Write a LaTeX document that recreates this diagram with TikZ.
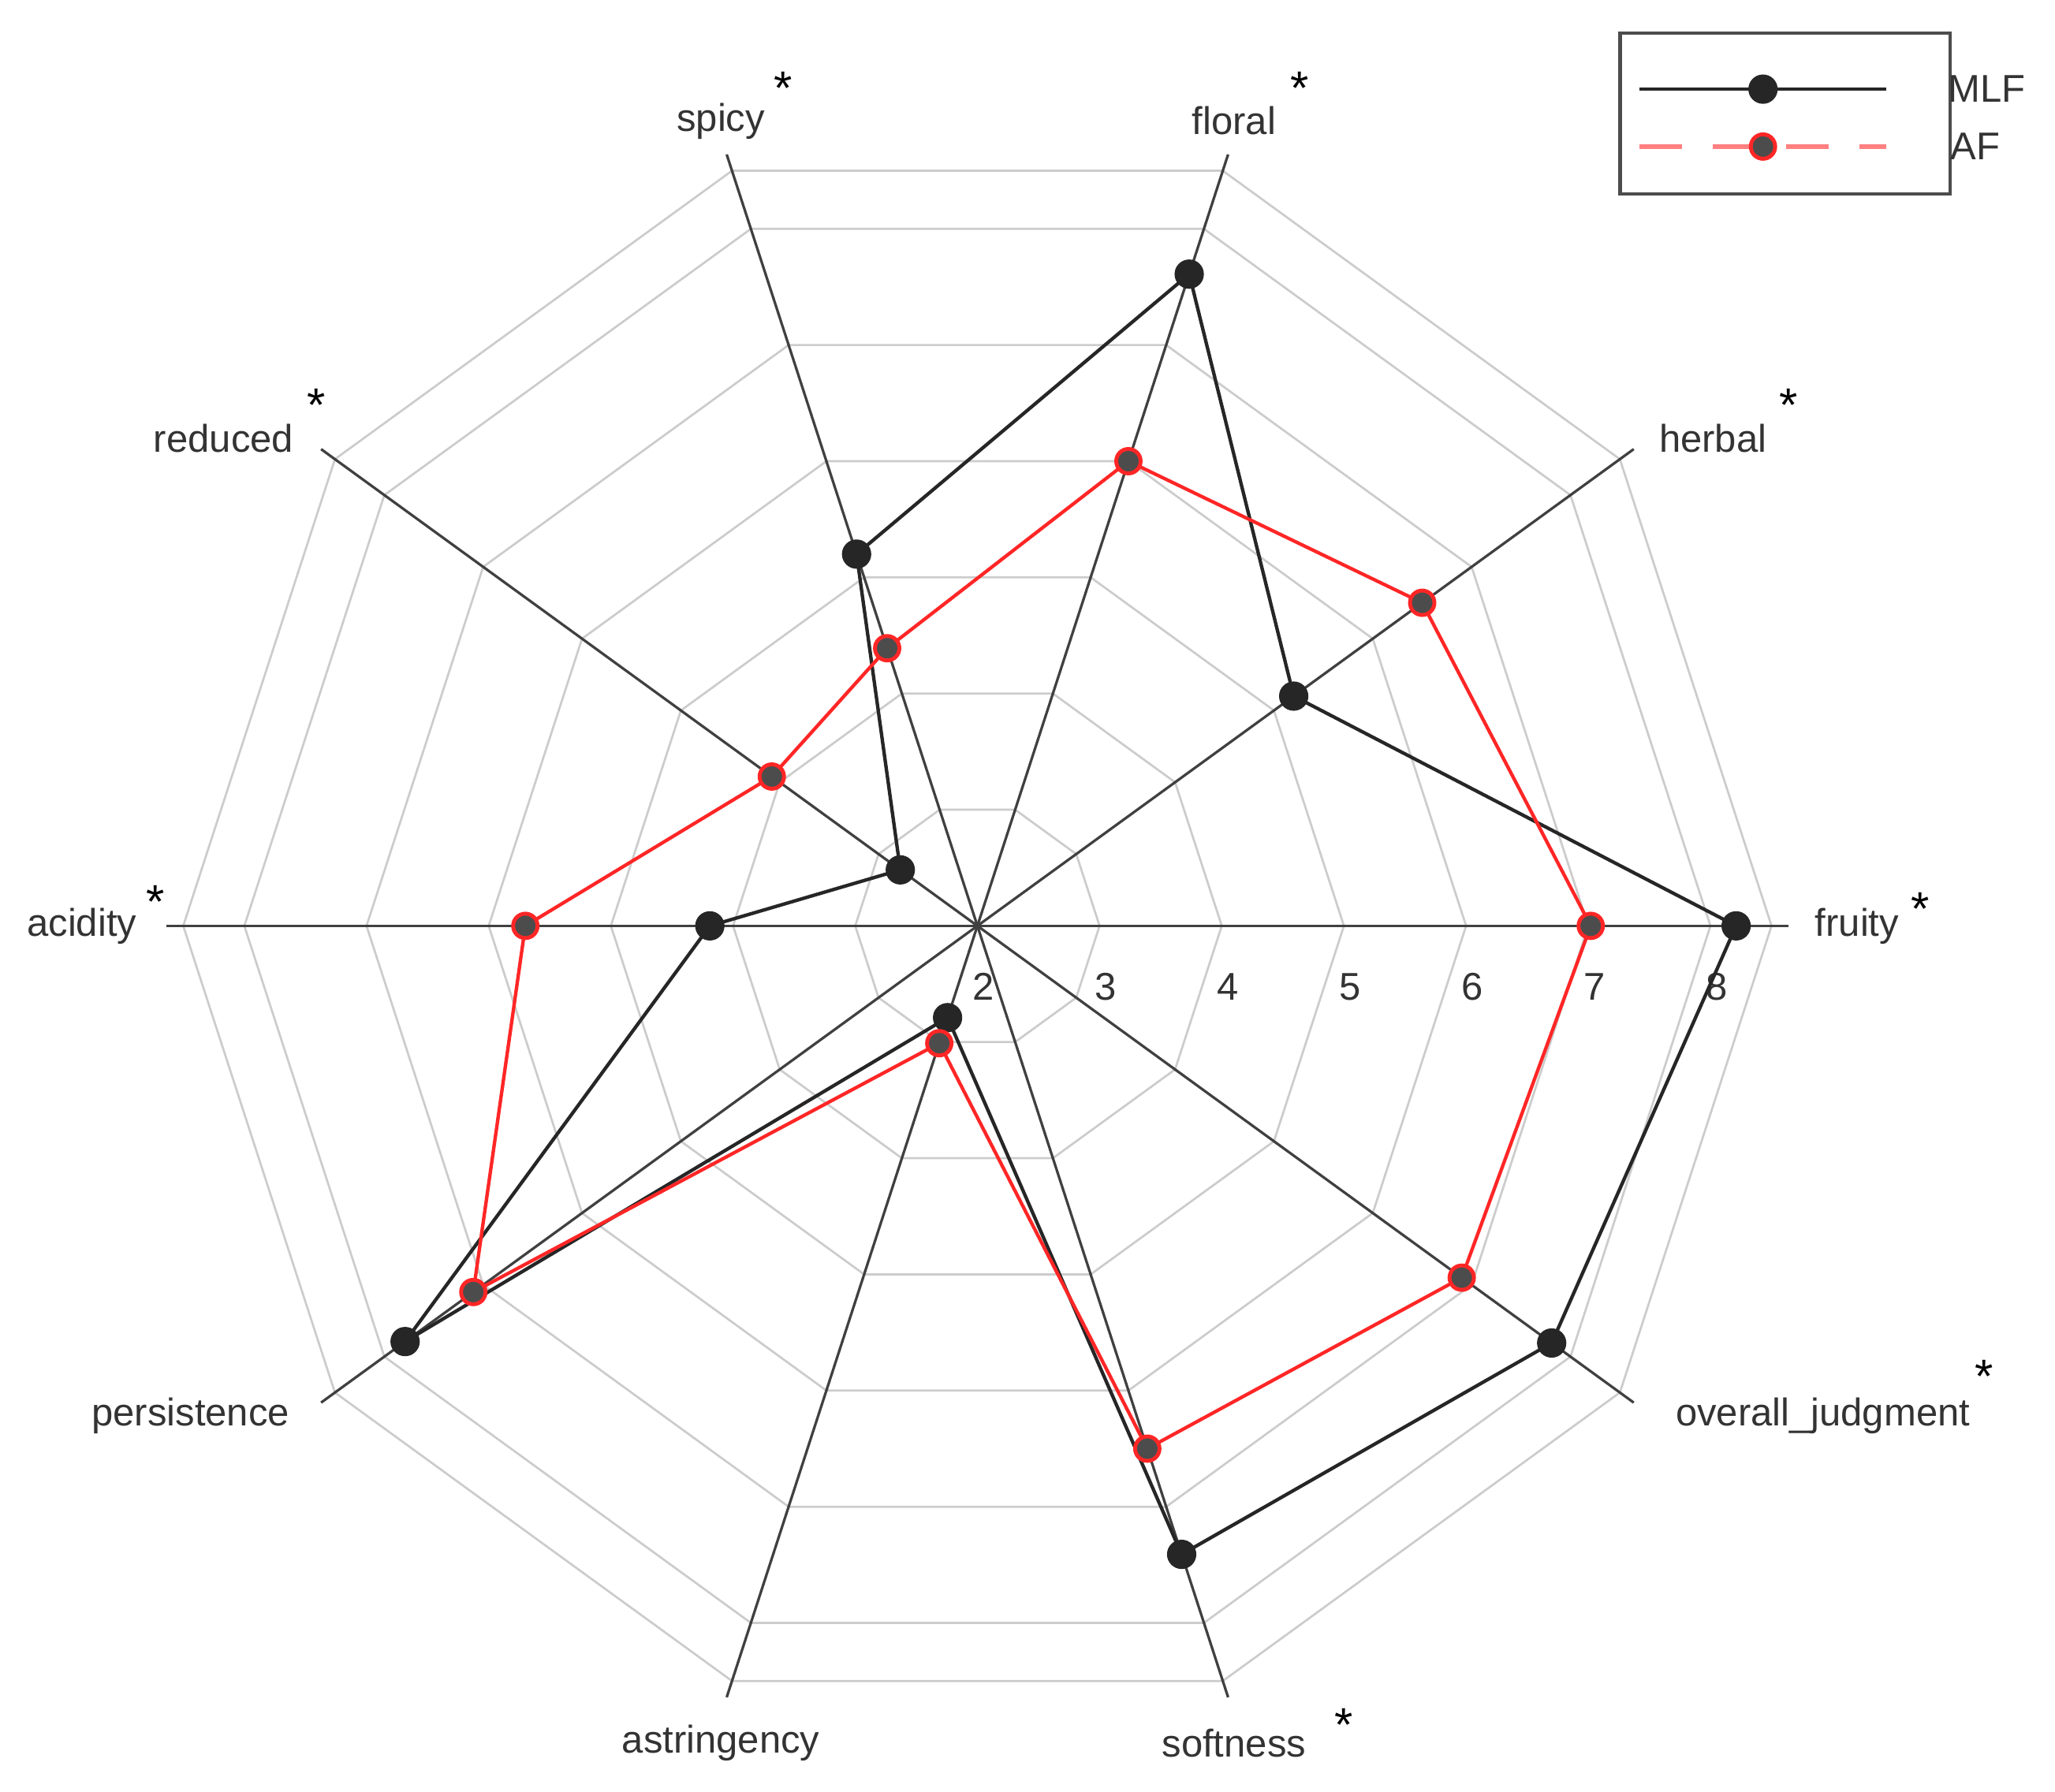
\documentclass[tikz,border=0pt]{standalone}
\usepackage{fontspec}
\setmainfont{Liberation Sans}
\begin{document}
\begin{tikzpicture}[
  lab/.style={font=\fontsize{9}{10}\selectfont, text=black!80},
  star/.style={font=\fontsize{11}{11}\selectfont},
  mlfdot/.style={circle, fill=black!85, inner sep=0pt, minimum size=0.24cm},
  afdot/.style={circle, fill=black!70, draw=red!85, line width=0.9pt, inner sep=0pt, minimum size=0.2cm},
  grid/.style={black!20, line width=0.5pt},
  axisl/.style={black!75, line width=0.6pt}]
\useasboundingbox (-8.0,-7.09) rectangle (8.82,7.58);
\coordinate (c) at (0,0);
% rings
\foreach \r in {1,2,3,4,5,6,6.5}{
  \draw[grid] (0:\r) \foreach \a in {36,72,...,324}{ -- (\a:\r)} -- cycle;
}
% axes
\foreach \a/\n in {0/fr,36/he,72/fl,108/sp,144/re,180/ac,216/pe,252/as,288/so,324/ov}{
  \coordinate (e\n) at (\a:6.64);
  \draw[axisl] (c) -- (e\n);
}
% tick labels
\foreach \v [count=\i from 0] in {2,3,4,5,6,7,8}{
  \node[lab] (t\v) at (\i+0.05,-0.5) {\v};
}
% labels
\node[lab] (lsp) at (-2.10,6.59) {spicy};
\node[star] (ssp) at (-1.59,6.86) {*};
\node[lab] (lfl) at (2.10,6.59) {floral};
\node[star] (sfl) at (2.64,6.86) {*};
\node[lab] (lre) at (-6.17,3.99) {reduced};
\node[star] (sre) at (-5.41,4.26) {*};
\node[lab] (lhe) at (6.02,3.99) {herbal};
\node[star] (she) at (6.64,4.26) {*};
\node[lab] (lac) at (-7.33,0) {acidity};
\node[star] (sac) at (-6.73,0.2) {*};
\node[lab] (lfr) at (7.2,0) {fruity};
\node[star] (sfr) at (7.72,0.14) {*};
\node[lab] (lpe) at (-6.44,-4.01) {persistence};
\node[lab] (lov) at (6.92,-4.01) {overall\_judgment};
\node[star] (sov) at (8.24,-3.69) {*};
\node[lab] (las) at (-2.10,-6.69) {astringency};
\node[lab] (lso) at (2.10,-6.69) {softness};
\node[star] (sso) at (3.0,-6.54) {*};
% data
\foreach \a/\r/\n in {0/6.21/1,36/3.2/2,72/5.61/3,108/3.2/4,144/0.78/5,180/2.19/6,216/5.79/7,252/0.79/8,288/5.41/9,324/5.81/10}
  \coordinate (m\n) at (\a:\r);
\foreach \a/\r/\n in {0/5.02/1,36/4.5/2,72/4.0/3,108/2.39/4,144/2.08/5,180/3.7/6,216/5.1/7,252/1.01/8,288/4.5/9,324/4.9/10}
  \coordinate (f\n) at (\a:\r);
\draw[black!85, line width=0.8pt] (m1)--(m2)--(m3)--(m4)--(m5)--(m6)--(m7)--(m8)--(m9)--(m10)--cycle;
\draw[red!85, line width=0.8pt] (f1)--(f2)--(f3)--(f4)--(f5)--(f6)--(f7)--(f8)--(f9)--(f10)--cycle;
\foreach \n in {1,...,10}{ \node[mlfdot] (mm\n) at (m\n) {}; }
\foreach \n in {1,...,10}{ \node[afdot] (ff\n) at (f\n) {}; }
% legend
\draw[black!70, line width=0.8pt] (5.26,5.99) rectangle (7.96,7.31);
\coordinate (la1) at (5.42,6.85); \coordinate (la2) at (7.44,6.85);
\draw[black!85, line width=0.8pt] (la1) -- (la2);
\node[mlfdot] (lgm) at (6.43,6.85) {};
\coordinate (lb1) at (5.42,6.38); \coordinate (lb2) at (7.44,6.38);
\draw[red!50, line width=1.2pt, dash pattern=on 0.35cm off 0.25cm] (lb1) -- (lb2);
\node[afdot] (lgf) at (6.43,6.38) {};
\node[lab, anchor=west, inner sep=0pt] (tm) at (7.94,6.85) {MLF};
\node[lab, anchor=west, inner sep=0pt] (tf) at (7.96,6.38) {AF};
\end{tikzpicture}
\end{document}
